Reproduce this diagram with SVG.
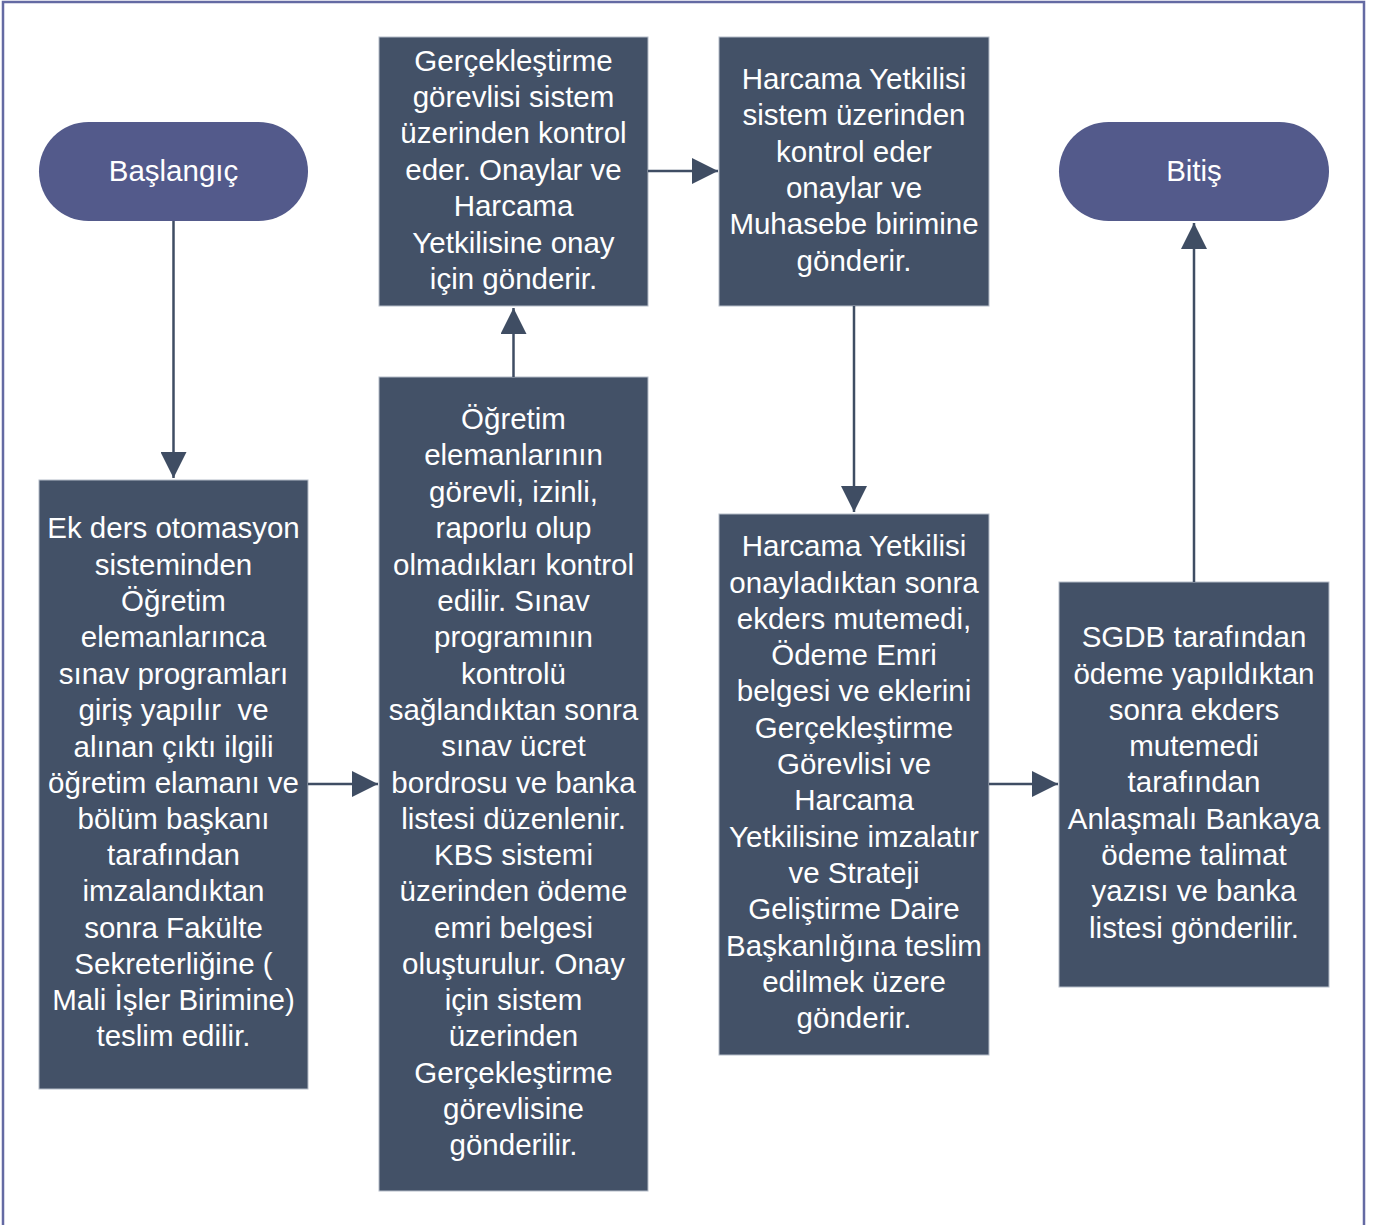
<svg xmlns="http://www.w3.org/2000/svg" width="1378" height="1225" viewBox="0 0 1378 1225">
<style>
.frame{fill:none;stroke:#646aa3;stroke-width:2.5}
.term{fill:#535a8b}
.box{fill:#435167;stroke:#b4bcc8;stroke-width:1}
.t{font-family:"Liberation Sans",Arial,sans-serif;font-size:29.5px;fill:#ffffff;text-anchor:middle}
.c{stroke:#3f4d63;stroke-width:2.5;fill:none;marker-end:url(#ah)}
</style>
<defs>
<marker id="ah" markerUnits="userSpaceOnUse" markerWidth="26" markerHeight="26" refX="26" refY="13" orient="auto" viewBox="0 0 26 26">
<path d="M0,0 L26,13 L0,26 z" fill="#3f4d63"/>
</marker>
</defs>
<rect width="1378" height="1225" fill="#ffffff"/>
<path class="frame" d="M3,1240 L3,2 L1364,2 L1364,1240"/>

<g id="start">
<rect class="term" x="39" y="122" width="269" height="99" rx="49.5"/>
<text class="t" x="173.5" y="181">Başlangıç</text>
</g>
<g id="end">
<rect class="term" x="1059" y="122" width="270" height="99" rx="49.5"/>
<text class="t" x="1194" y="181">Bitiş</text>
</g>

<g id="nodeA">
<rect class="box" x="39" y="480" width="269" height="609"/>
<text class="t"><tspan x="173.5" y="538">Ek ders otomasyon</tspan><tspan x="173.5" y="575">sisteminden</tspan><tspan x="173.5" y="611">Öğretim</tspan><tspan x="173.5" y="647">elemanlarınca</tspan><tspan x="173.5" y="684">sınav programları</tspan><tspan x="173.5" y="720">giriş yapılır&#160; ve</tspan><tspan x="173.5" y="757">alınan çıktı ilgili</tspan><tspan x="173.5" y="793">öğretim elamanı ve</tspan><tspan x="173.5" y="829">bölüm başkanı</tspan><tspan x="173.5" y="865">tarafından</tspan><tspan x="173.5" y="901">imzalandıktan</tspan><tspan x="173.5" y="938">sonra Fakülte</tspan><tspan x="173.5" y="974">Sekreterliğine (</tspan><tspan x="173.5" y="1010">Mali İşler Birimine)</tspan><tspan x="173.5" y="1046">teslim edilir.</tspan></text>
</g>

<g id="nodeB">
<rect class="box" x="379" y="37" width="269" height="269"/>
<text class="t"><tspan x="513.5" y="71">Gerçekleştirme</tspan><tspan x="513.5" y="107">görevlisi sistem</tspan><tspan x="513.5" y="143">üzerinden kontrol</tspan><tspan x="513.5" y="180">eder. Onaylar ve</tspan><tspan x="513.5" y="216">Harcama</tspan><tspan x="513.5" y="253">Yetkilisine onay</tspan><tspan x="513.5" y="289">için gönderir.</tspan></text>
</g>

<g id="nodeC">
<rect class="box" x="379" y="377" width="269" height="814"/>
<text class="t"><tspan x="513.5" y="429">Öğretim</tspan><tspan x="513.5" y="465">elemanlarının</tspan><tspan x="513.5" y="502">görevli, izinli,</tspan><tspan x="513.5" y="538">raporlu olup</tspan><tspan x="513.5" y="575">olmadıkları kontrol</tspan><tspan x="513.5" y="611">edilir. Sınav</tspan><tspan x="513.5" y="647">programının</tspan><tspan x="513.5" y="684">kontrolü</tspan><tspan x="513.5" y="720">sağlandıktan sonra</tspan><tspan x="513.5" y="756">sınav ücret</tspan><tspan x="513.5" y="793">bordrosu ve banka</tspan><tspan x="513.5" y="829">listesi düzenlenir.</tspan><tspan x="513.5" y="865">KBS sistemi</tspan><tspan x="513.5" y="901">üzerinden ödeme</tspan><tspan x="513.5" y="938">emri belgesi</tspan><tspan x="513.5" y="974">oluşturulur. Onay</tspan><tspan x="513.5" y="1010">için sistem</tspan><tspan x="513.5" y="1046">üzerinden</tspan><tspan x="513.5" y="1083">Gerçekleştirme</tspan><tspan x="513.5" y="1119">görevlisine</tspan><tspan x="513.5" y="1155">gönderilir.</tspan></text>
</g>

<g id="nodeD">
<rect class="box" x="719" y="37" width="270" height="269"/>
<text class="t"><tspan x="854" y="89">Harcama Yetkilisi</tspan><tspan x="854" y="125">sistem üzerinden</tspan><tspan x="854" y="162">kontrol eder</tspan><tspan x="854" y="198">onaylar ve</tspan><tspan x="854" y="234">Muhasebe birimine</tspan><tspan x="854" y="271">gönderir.</tspan></text>
</g>

<g id="nodeE">
<rect class="box" x="719" y="514" width="270" height="541"/>
<text class="t"><tspan x="854" y="556">Harcama Yetkilisi</tspan><tspan x="854" y="593">onayladıktan sonra</tspan><tspan x="854" y="629">ekders mutemedi,</tspan><tspan x="854" y="665">Ödeme Emri</tspan><tspan x="854" y="701">belgesi ve eklerini</tspan><tspan x="854" y="738">Gerçekleştirme</tspan><tspan x="854" y="774">Görevlisi ve</tspan><tspan x="854" y="810">Harcama</tspan><tspan x="854" y="847">Yetkilisine imzalatır</tspan><tspan x="854" y="883">ve Strateji</tspan><tspan x="854" y="919">Geliştirme Daire</tspan><tspan x="854" y="956">Başkanlığına teslim</tspan><tspan x="854" y="992">edilmek üzere</tspan><tspan x="854" y="1028">gönderir.</tspan></text>
</g>

<g id="nodeF">
<rect class="box" x="1059" y="582" width="270" height="405"/>
<text class="t"><tspan x="1194" y="647">SGDB tarafından</tspan><tspan x="1194" y="684">ödeme yapıldıktan</tspan><tspan x="1194" y="720">sonra ekders</tspan><tspan x="1194" y="756">mutemedi</tspan><tspan x="1194" y="792">tarafından</tspan><tspan x="1194" y="829">Anlaşmalı Bankaya</tspan><tspan x="1194" y="865">ödeme talimat</tspan><tspan x="1194" y="901">yazısı ve banka</tspan><tspan x="1194" y="938">listesi gönderilir.</tspan></text>
</g>

<g id="connectors">
<line class="c" x1="173.5" y1="221" x2="173.5" y2="478"/>
<line class="c" x1="308" y1="784" x2="378" y2="784"/>
<line class="c" x1="513.5" y1="377" x2="513.5" y2="308"/>
<line class="c" x1="648" y1="171" x2="718" y2="171"/>
<line class="c" x1="854" y1="306" x2="854" y2="512"/>
<line class="c" x1="989" y1="784" x2="1058" y2="784"/>
<line class="c" x1="1194" y1="582" x2="1194" y2="223"/>
</g>
</svg>
